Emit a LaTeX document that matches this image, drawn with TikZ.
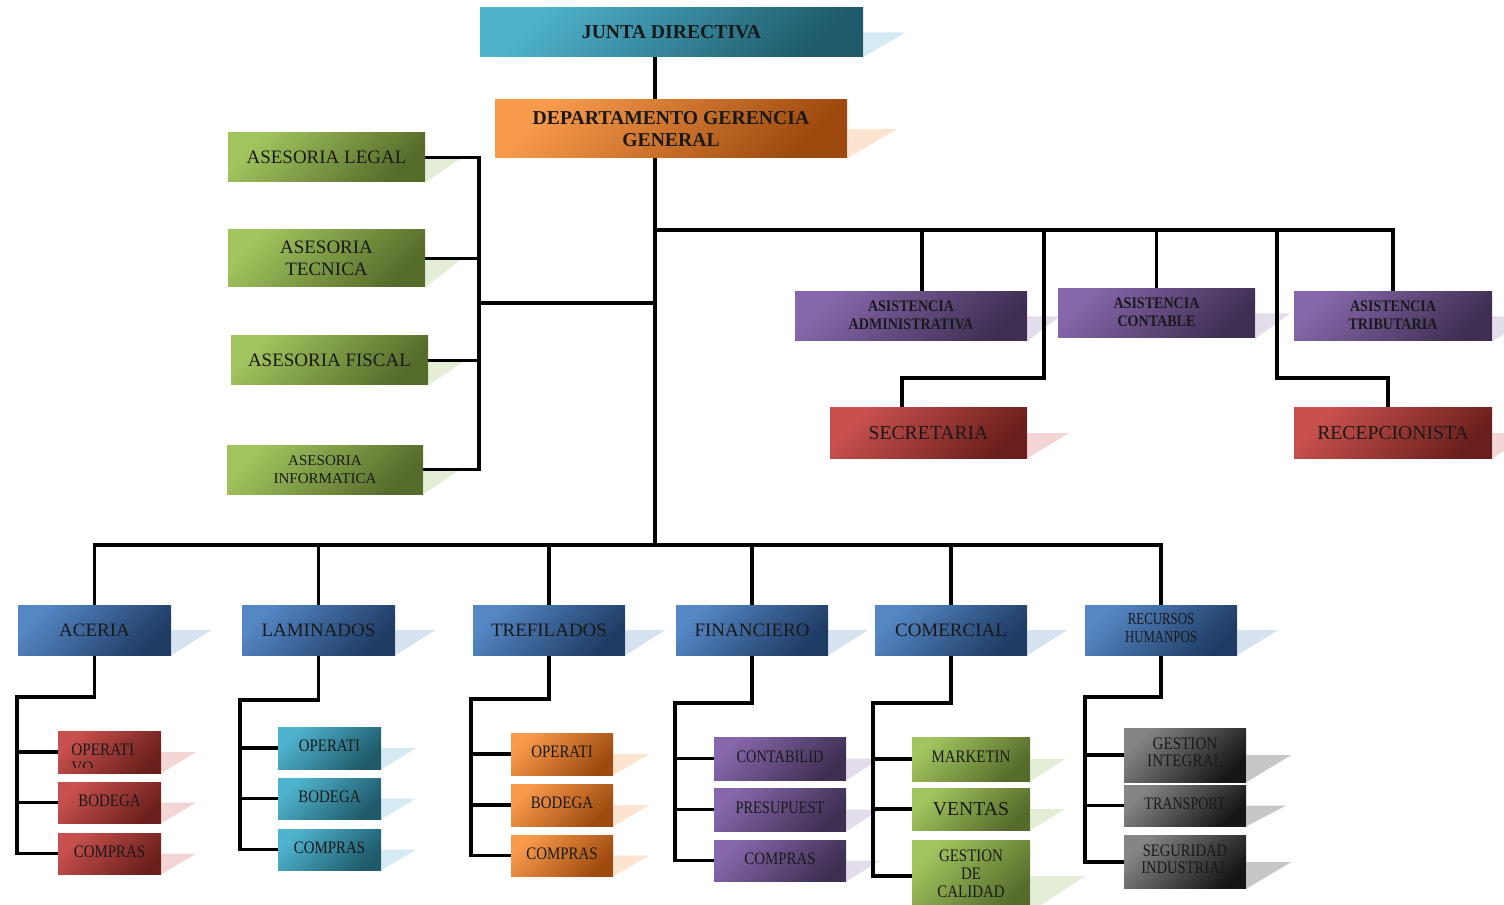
\documentclass[tikz,border=0pt]{standalone}
\usepackage{fontspec}
\setmainfont{Liberation Serif}
\usepackage{graphicx}
\usetikzlibrary{calc}
\pgfdeclarelayer{background}
\pgfsetlayers{background,main}

\definecolor{tealL}{HTML}{4FB3CE}\definecolor{tealD}{HTML}{1F5B6B}\definecolor{tealS}{HTML}{D5EBF3}
\definecolor{orangeL}{HTML}{F89A4C}\definecolor{orangeD}{HTML}{9E4A0E}\definecolor{orangeS}{HTML}{FCE4D0}
\definecolor{greenL}{HTML}{A2C45E}\definecolor{greenD}{HTML}{556B2A}\definecolor{greenS}{HTML}{E4EED6}
\definecolor{purpleL}{HTML}{8667AB}\definecolor{purpleD}{HTML}{3E2F52}\definecolor{purpleS}{HTML}{E2DCEB}
\definecolor{redL}{HTML}{C9514D}\definecolor{redD}{HTML}{6B1F1D}\definecolor{redS}{HTML}{F3D5D5}
\definecolor{blueL}{HTML}{5587C5}\definecolor{blueD}{HTML}{1E3B63}\definecolor{blueS}{HTML}{D7E2F0}
\definecolor{grayL}{HTML}{858585}\definecolor{grayD}{HTML}{161616}\definecolor{grayS}{HTML}{C6C6C6}

\newcommand{\fs}[2]{\fontsize{#1}{#2}\selectfont}
\newcommand{\sq}[2]{\scalebox{#1}[1]{\begin{tabular}{@{}c@{}}#2\end{tabular}}}

\tikzset{
  orgbox/.style n args={3}{rectangle, inner sep=1pt, align=center, text=black!90,
    minimum width=#2*0.25mm, minimum height=#3*0.25mm,
    top color=#1L, bottom color=#1D, shading angle=45},
  subtxt/.style={font=\fs{12.5pt}{13pt}},
  link/.style={line width=2.5pt, line cap=rect}
}

\begin{document}
\begin{tikzpicture}[x=0.25mm, y=-0.25mm]
  \useasboundingbox (0,0) rectangle (1504,905);

  \node[orgbox={teal}{383}{49}, font=\bfseries\fs{14pt}{16pt}] (junta) at (671.5,32.5) {JUNTA DIRECTIVA};
  \node[orgbox={orange}{352}{58}, font=\bfseries\fs{14pt}{15.5pt}] (dgg) at (671,129) {DEPARTAMENTO GERENCIA\\GENERAL};

  \node[orgbox={green}{197}{49}, font=\fs{13.5pt}{15.5pt}] (legal) at (326.5,157.5) {ASESORIA LEGAL};
  \node[orgbox={green}{197}{57}, font=\fs{13.5pt}{15.5pt}] (tecnica) at (326.5,258.5) {ASESORIA\\TECNICA};
  \node[orgbox={green}{197}{49}, font=\fs{13.5pt}{15.5pt}] (fiscal) at (329.5,360.5) {ASESORIA FISCAL};
  \node[orgbox={green}{196}{49}, font=\fs{10.7pt}{13pt}] (informatica) at (325,469.5) {ASESORIA\\INFORMATICA};

  \node[orgbox={purple}{232}{49}, font=\bfseries\fs{11.5pt}{13pt}] (admin) at (911,316.5) {\sq{0.87}{ASISTENCIA\\ADMINISTRATIVA}};
  \node[orgbox={purple}{197}{49}, font=\bfseries\fs{11.5pt}{13pt}] (contable) at (1156.5,313.5) {\sq{0.87}{ASISTENCIA\\CONTABLE}};
  \node[orgbox={purple}{198}{49}, font=\bfseries\fs{11.5pt}{13pt}] (tributaria) at (1393,316.5) {\sq{0.87}{ASISTENCIA\\TRIBUTARIA}};
  \node[orgbox={red}{197}{50}, font=\fs{14pt}{16pt}] (secretaria) at (928.5,433) {SECRETARIA};
  \node[orgbox={red}{198}{50}, font=\fs{14pt}{16pt}] (recepcion) at (1393,433) {RECEPCIONISTA};

  \node[orgbox={blue}{153}{50}, font=\fs{13.5pt}{15pt}] (aceria) at (94.5,630) {ACERIA};
  \node[orgbox={blue}{153}{50}, font=\fs{13.5pt}{15pt}] (laminados) at (318.5,630) {LAMINADOS};
  \node[orgbox={blue}{152}{50}, font=\fs{13.5pt}{15pt}] (trefilados) at (549,630) {TREFILADOS};
  \node[orgbox={blue}{152}{50}, font=\fs{13.5pt}{15pt}] (financiero) at (752,630) {FINANCIERO};
  \node[orgbox={blue}{152}{50}, font=\fs{13.5pt}{15pt}] (comercial) at (951,630) {COMERCIAL};
  \node[orgbox={blue}{152}{50}, font=\fs{12pt}{13pt}] (rrhh) at (1161,630) {\sq{0.76}{RECURSOS\\HUMANPOS}};

  \node[orgbox={red}{103}{42}] (ac1) at (109.5,752) {};
  \node[orgbox={red}{103}{41}, subtxt] (ac2) at (109.5,802.5) {\sq{0.85}{BODEGA}};
  \node[orgbox={red}{103}{41}, subtxt] (ac3) at (109.5,853.5) {\sq{0.85}{COMPRAS}};
  \node[orgbox={teal}{103}{42}, subtxt] (la1) at (329.5,748) {\sq{0.85}{OPERATI}};
  \node[orgbox={teal}{103}{41}, subtxt] (la2) at (329.5,798.5) {\sq{0.85}{BODEGA}};
  \node[orgbox={teal}{103}{41}, subtxt] (la3) at (329.5,849.5) {\sq{0.85}{COMPRAS}};
  \node[orgbox={orange}{102}{42}, subtxt] (tr1) at (562,754) {\sq{0.85}{OPERATI}};
  \node[orgbox={orange}{102}{42}, subtxt] (tr2) at (562,805) {\sq{0.85}{BODEGA}};
  \node[orgbox={orange}{102}{41}, subtxt] (tr3) at (562,855.5) {\sq{0.85}{COMPRAS}};
  \node[orgbox={purple}{132}{43}, subtxt] (fi1) at (780,758.5) {\sq{0.82}{CONTABILID}};
  \node[orgbox={purple}{132}{43}, subtxt] (fi2) at (780,809.5) {\sq{0.82}{PRESUPUEST}};
  \node[orgbox={purple}{132}{41}, subtxt] (fi3) at (780,860.5) {\sq{0.85}{COMPRAS}};
  \node[orgbox={green}{118}{44}, subtxt] (co1) at (971,759) {\sq{0.85}{MARKETIN}};
  \node[orgbox={green}{118}{42}, font=\fs{14pt}{15pt}] (co2) at (971,809) {VENTAS};
  \node[orgbox={green}{118}{72}, font=\fs{12.5pt}{12.8pt}] (co3) at (971,876) {\sq{0.85}{GESTION\\DE\\CALIDAD}};
  \node[orgbox={gray}{122}{54}, font=\fs{12.5pt}{12pt}] (rh1) at (1185,755) {\sq{0.86}{GESTION\\INTEGRAL}};
  \node[orgbox={gray}{122}{41}, subtxt] (rh2) at (1185,805.5) {\sq{0.8}{TRANSPORT}};
  \node[orgbox={gray}{122}{53}, font=\fs{12.5pt}{12pt}] (rh3) at (1185,862) {\sq{0.83}{SEGURIDAD\\INDUSTRIAL}};

  \begin{scope}
    \clip (ac1.north west) rectangle ($(ac1.south east)+(0,-6)$);
    \node[anchor=base west, inner sep=0pt, subtxt, text=black!90] (ac1t) at (71,755)
      {\scalebox{0.87}[1]{\begin{tabular}[t]{@{}l@{}}OPERATI\\VO\end{tabular}}};
  \end{scope}

  \coordinate (trunk) at (655,545);
  \coordinate (rbus) at (655,230);
  \coordinate (abus) at (479,303);
  \coordinate (tapA) at (922,230);
  \coordinate (tapS) at (1044,230);
  \coordinate (kneeS) at (902,378);
  \coordinate (tapR) at (1277,230);
  \coordinate (kneeR) at (1388,378);

  \begin{pgfonlayer}{background}
    \foreach \n/\c/\l in {junta/teal/42, dgg/orange/50, legal/green/37, tecnica/green/37,
        fiscal/green/37, informatica/green/37, admin/purple/32, contable/purple/35,
        tributaria/purple/40, secretaria/red/42, recepcion/red/40,
        aceria/blue/40, laminados/blue/40, trefilados/blue/40, financiero/blue/40,
        comercial/blue/40, rrhh/blue/41,
        ac1/red/35, ac2/red/35, ac3/red/35, la1/teal/35, la2/teal/35, la3/teal/35,
        tr1/orange/36, tr2/orange/36, tr3/orange/36, fi1/purple/34, fi2/purple/34, fi3/purple/34,
        co1/green/35, co2/green/35, co3/green/55, rh1/gray/45, rh2/gray/40, rh3/gray/45}
      \fill[\c S] (\n.east) -- ++(\l,0) -- (\n.south east) -- cycle;

    \draw[link] (junta.south -| trunk) -- (dgg.north -| trunk);
    \draw[link] (dgg.south -| trunk) -- (trunk);

    \draw[link] (abus) -- (abus -| trunk);
    \draw[link] (legal.east -| abus) -- (informatica.east -| abus);
    \foreach \n in {legal,tecnica,fiscal,informatica}
      \draw[link] (\n.east) -- (\n.east -| abus);

    \draw[link] (rbus) -| (tributaria.north);
    \draw[link] (tapA) -- (tapA |- admin.north);
    \draw[link] (contable.north) -- (contable.north |- rbus);
    \draw[link] (tapS) |- (kneeS) -- (kneeS |- secretaria.north);
    \draw[link] (tapR) |- (kneeR) -- (kneeR |- recepcion.north);

    \draw[link] (trunk -| aceria.north) -- (trunk -| rrhh.north);
    \foreach \n in {aceria,laminados,trefilados,financiero,comercial,rrhh}
      \draw[link] (\n.north) -- (\n.north |- trunk);

    \foreach \d/\p/\sx/\ky in {aceria/ac/17/697, laminados/la/240/700, trefilados/tr/471/699,
        financiero/fi/675/703, comercial/co/873/703, rrhh/rh/1085/697}{
      \coordinate (sp\p) at (\sx,\ky);
      \draw[link] (\d.south) |- (sp\p) |- (\p3.west);
      \draw[link] (\p1.west) -- (\p1.west -| sp\p);
      \draw[link] (\p2.west) -- (\p2.west -| sp\p);
    }
  \end{pgfonlayer}
\end{tikzpicture}
\end{document}
